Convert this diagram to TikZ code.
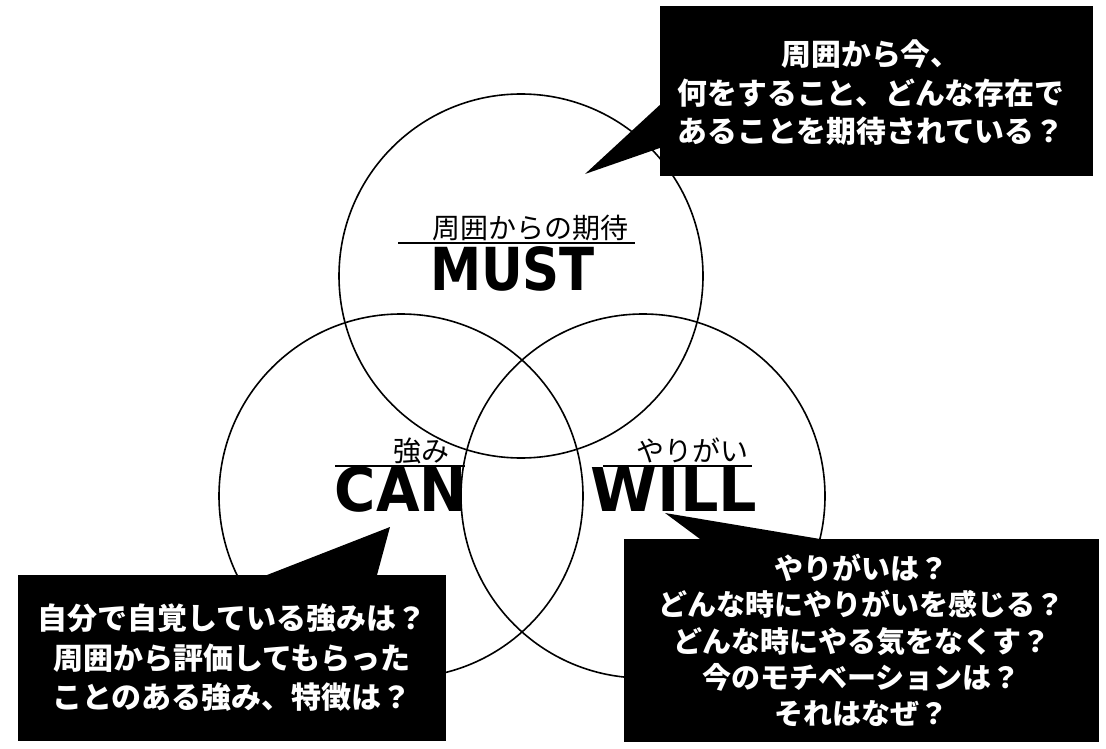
\documentclass[tikz,border=0pt]{standalone}
\usepackage{graphicx}
\usepackage{fontspec}
\newfontfamily\jp{Noto Sans CJK JP}
\newfontfamily\lab{DejaVu Sans}
\usetikzlibrary{calc}
\begin{document}
\begin{tikzpicture}[x=1pt,y=-1pt,
  ring/.style={circle,draw=black,line width=1.6pt,minimum size=364pt,inner sep=0pt},
  callout/.style={fill=black,text=white,inner sep=0pt,align=center},
  calltext/.style={text=white,inner sep=0pt,align=center},
  big/.style={inner sep=0pt,font=\lab\bfseries},
  ruby/.style={inner sep=0pt,font=\jp\fontsize{28}{28}\selectfont},
  bar/.style={line width=2pt}]
\useasboundingbox[fill=white] (0,0) rectangle (1106,749);
% circles
\node[ring] (must) at (521,276) {};
\node[ring] (can) at (401,496) {};
\node[ring] (will) at (643,496) {};
% labels
\node[big] (mustlab) at (512.5,268.5) {\resizebox{165pt}{44pt}{MUST}};
\node[big] (canlab) at (401,489) {\resizebox{132pt}{45pt}{CAN}};
\node[big] (willlab) at (674,489) {\resizebox{166pt}{44pt}{WILL}};
\node[ruby] (mustruby) at (530,228) {周囲からの期待};
\node[ruby] (canruby) at (421.5,450.5) {強み};
\node[ruby] (willruby) at (692.5,450) {やりがい};
\draw[bar] (398,243) -- (635,243);
\draw[bar] (335,466) -- (465,466);
\draw[bar] (603,466) -- (752,466);
% top callout
\node[callout,minimum width=433pt,minimum height=170pt] (q1) at (876.5,91) {};
\coordinate (q1tip) at (585,174);
\fill (665,105) -- (q1.west |- 0,105) -- (q1tip) -- (q1.west |- 0,148) -- (665,148) -- cycle;
\node[calltext,font=\jp\bfseries\fontsize{29.8}{38.5}\selectfont] (q1t) at (871,93)
  {周囲から今、\\何をすること、どんな存在で\\あることを期待されている？};
% left callout
\node[callout,minimum width=428pt,minimum height=166pt,
  font=\jp\bfseries\fontsize{30}{39.5}\selectfont] (q2) at (232,658)
  {自分で自覚している強みは？\\周囲から評価してもらった\\ことのある強み、特徴は？};
\coordinate (q2tip) at (390,527);
\fill (267,580) -- (267,575) -- (q2tip) -- (377,575) -- (377,580) -- cycle;
% right callout
\node[callout,minimum width=475pt,minimum height=203pt,
  font=\jp\bfseries\fontsize{29}{36.3}\selectfont] (q3) at (861.5,640.5)
  {やりがいは？\\どんな時にやりがいを感じる？\\どんな時にやる気をなくす？\\今のモチベーションは？\\それはなぜ？};
\coordinate (q3tip) at (665,513);
\fill (700,544) -- (700,539) -- (q3tip) -- (820,539) -- (820,544) -- cycle;
\end{tikzpicture}
\end{document}
